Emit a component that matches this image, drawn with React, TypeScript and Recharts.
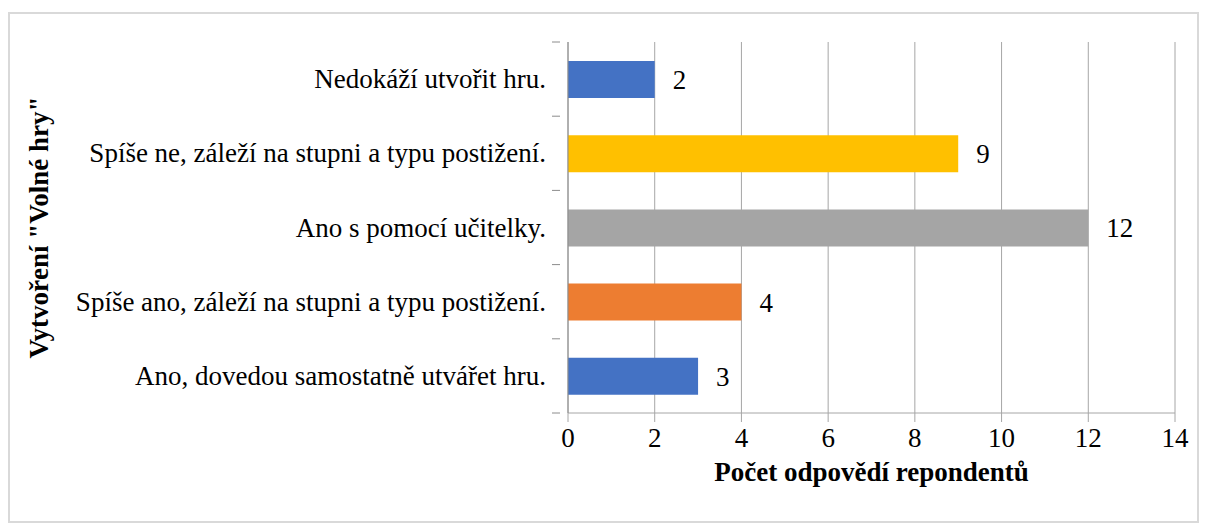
import { BarChart, Bar, XAxis, YAxis, CartesianGrid, Cell, LabelList } from "recharts"

const categories = [
  "Nedokáží utvořit hru.",
  "Spíše ne, záleží na stupni a typu postižení.",
  "Ano s pomocí učitelky.",
  "Spíše ano, záleží na stupni a typu postižení.",
  "Ano, dovedou samostatně utvářet hru.",
]
const counts = [2, 9, 12, 4, 3]
const barColors = ["#4472C4", "#FFC000", "#A5A5A5", "#ED7D31", "#4472C4"]
const xTicks = [0, 2, 4, 6, 8, 10, 12, 14]

const data = categories.map((name, i) => ({ name, value: counts[i] }))

const FONT = "'Liberation Serif', 'Times New Roman', serif"
const FS = 27
const TOP = 42
const PLOT_H = 371
const BAND = PLOT_H / categories.length

const CategoryTick = ({ x, y, payload, index }: any) => {
  return (
    <g>
      <text x={x - 14} y={y} dy={9} textAnchor="end" fontSize={FS} fontFamily={FONT} fill="#000">
        {payload.value}
      </text>
      <line x1={x - 8} x2={x} y1={y - BAND / 2} y2={y - BAND / 2} stroke="#8C8C8C" />
      {index === categories.length - 1 && (
        <line x1={x - 8} x2={x} y1={y + BAND / 2} y2={y + BAND / 2} stroke="#8C8C8C" />
      )}
    </g>
  )
}

export default function App() {
  return (
    <div style={{ position: "absolute", left: 0, top: 0, width: 1207, height: 523, background: "#fff" }}>
      <div
        style={{
          position: "absolute",
          left: 8,
          top: 12,
          width: 1187,
          height: 507,
          border: "2px solid #D9D9D9",
        }}
      />
      <BarChart
        width={1207}
        height={523}
        data={data}
        layout="vertical"
        margin={{ top: TOP, right: 32, left: 8, bottom: 0 }}
      >
        <CartesianGrid horizontal={false} stroke="#A6A6A6" />
        <XAxis
          type="number"
          domain={[0, 14]}
          ticks={xTicks}
          stroke="#A6A6A6"
          tickSize={9}
          tickMargin={6}
          tick={{ fill: "#000", fontSize: FS, fontFamily: FONT }}
          label={{
            value: "Počet odpovědí repondentů",
            position: "insideBottom",
            offset: 42,
            style: { fill: "#000", fontSize: FS, fontWeight: "bold", fontFamily: FONT },
          }}
          height={523 - TOP - PLOT_H}
        />
        <YAxis
          type="category"
          dataKey="name"
          width={560}
          stroke="#8C8C8C"
          tickLine={false}
          tick={<CategoryTick />}
          label={{
            value: 'Vytvoření "Volné hry"',
            angle: -90,
            position: "insideLeft",
            offset: 30,
            style: { textAnchor: "middle", fill: "#000", fontSize: FS, fontWeight: "bold", fontFamily: FONT },
          }}
        />
        <Bar dataKey="value" barSize={37} isAnimationActive={false}>
          {data.map((d, i) => (
            <Cell key={d.name} fill={barColors[i]} />
          ))}
          <LabelList
            dataKey="value"
            position="right"
            offset={18}
            style={{ fill: "#000", fontSize: FS, fontFamily: FONT }}
          />
        </Bar>
      </BarChart>
    </div>
  )
}
